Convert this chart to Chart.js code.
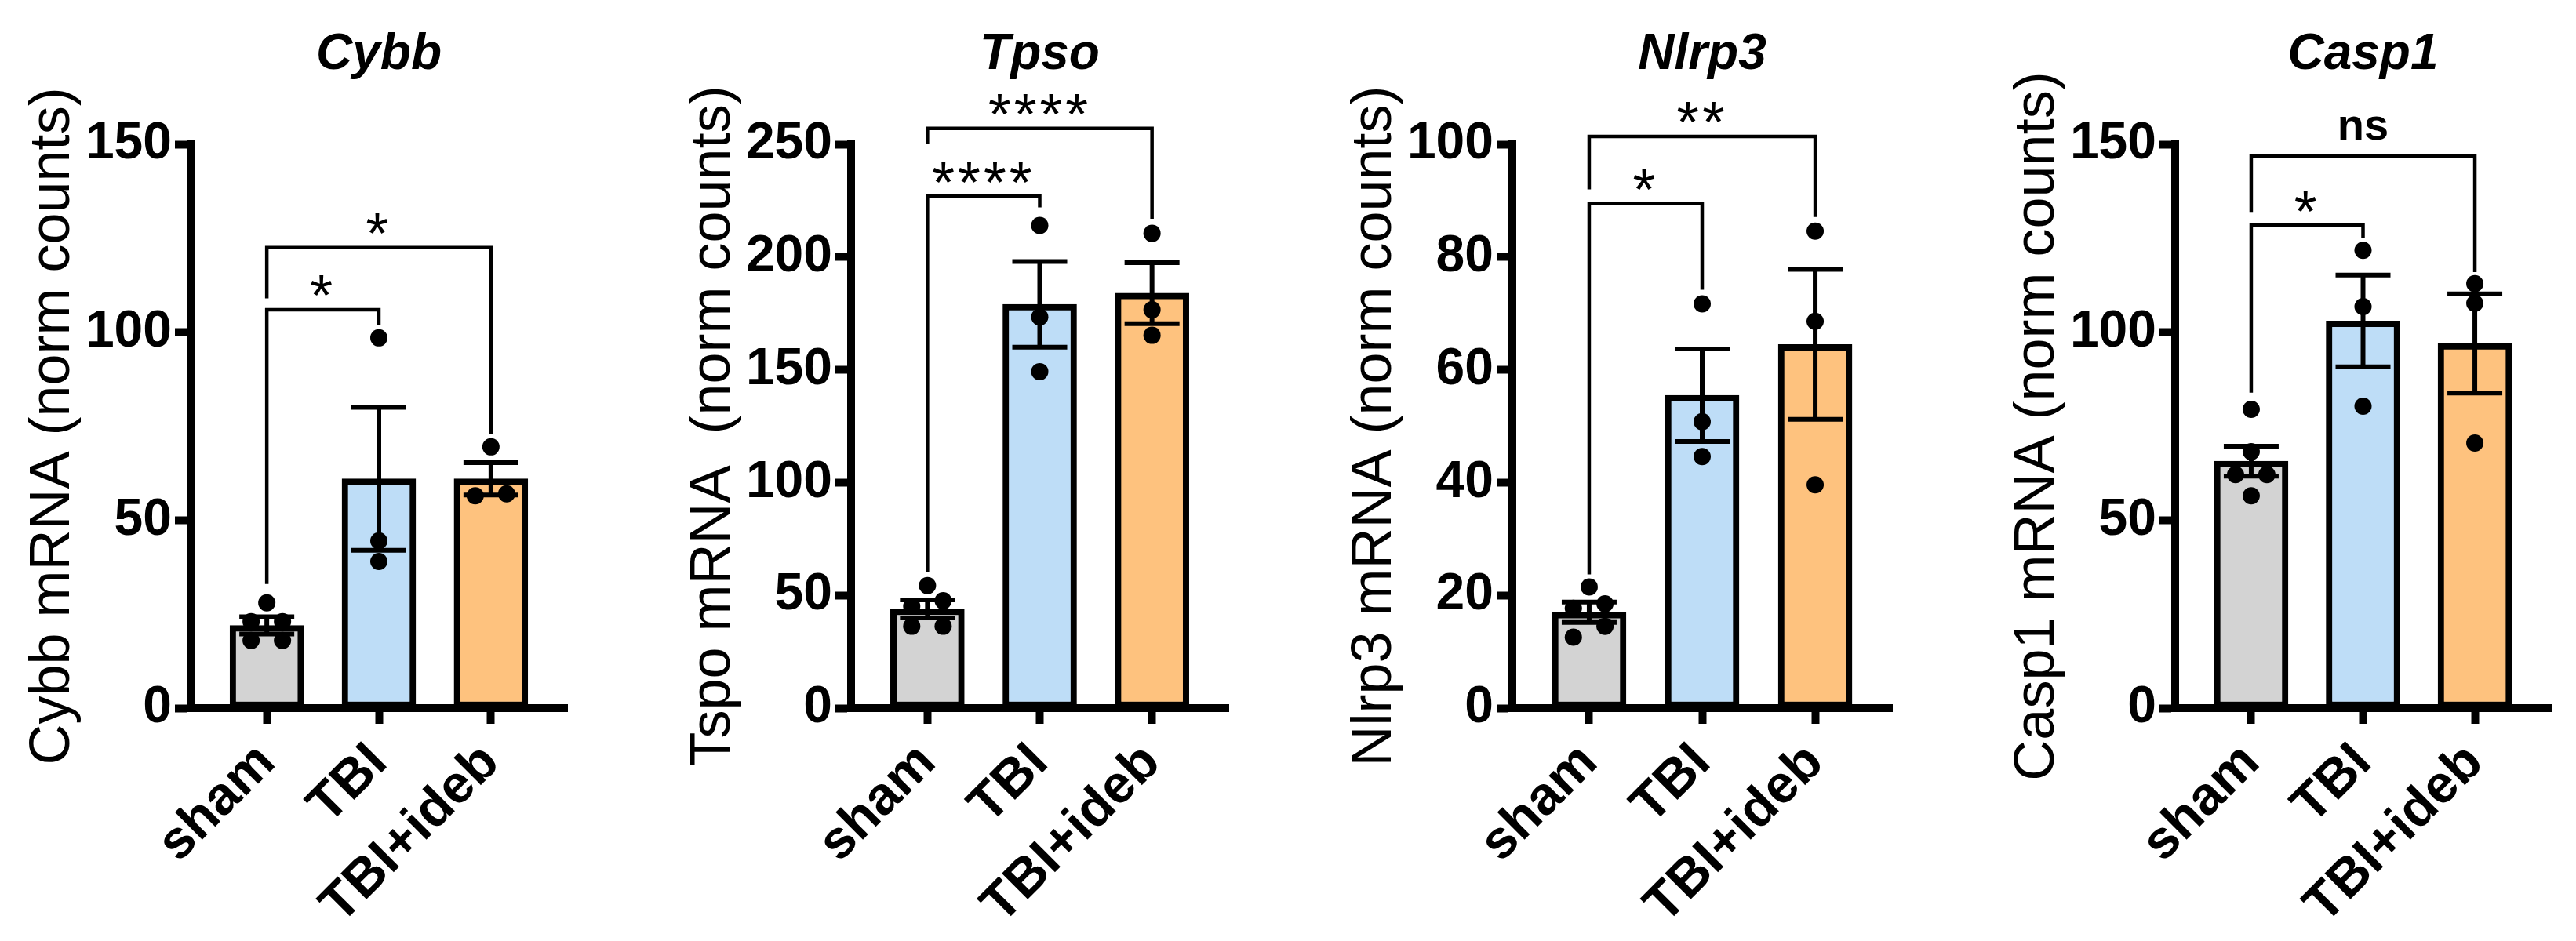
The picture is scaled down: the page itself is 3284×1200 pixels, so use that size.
<!DOCTYPE html>
<html>
<head>
<meta charset="utf-8">
<script src="https://cdn.jsdelivr.net/npm/chart.js@4.4.1/dist/chart.umd.min.js"></script>
<style>
  html, body { margin: 0; padding: 0; background: #fff; }
  #wrap { position: relative; width: 3284px; height: 1200px; overflow: hidden; }
  #wrap canvas { position: absolute; top: 0; }
</style>
</head>
<body>
<div id="wrap"></div>
<script>
// ---- data ----
const groups = ['sham', 'TBI', 'TBI+ideb'];
const genes = ['Cybb', 'Tpso', 'Nlrp3', 'Casp1'];
const yTitles = ['Cybb mRNA (norm counts)', 'Tspo mRNA  (norm counts)', 'Nlrp3 mRNA (norm counts)', 'Casp1 mRNA (norm counts)'];
const yMax = [150, 250, 100, 150];
const yStep = [50, 50, 20, 50];

const cybbMean = [22, 61, 61];
const cybbSem = [2.3, 19, 4.3];
const cybbPoints = [[28, 23, 23, 18, 18], [98.5, 44.5, 39], [69.5, 56.5, 57]];
// [from, to, bracket height, label, left leg end, right leg end]
const cybbSig = [[0, 1, 106, '*', 33, 102], [0, 2, 122.5, '*', 109, 73]];

const tspoMean = [44, 179, 184];
const tspoSem = [4, 19, 13.5];
const tspoPoints = [[54.3, 45.2, 47.6, 36.3, 36.3], [214, 173.4, 149.2], [210.5, 176.6, 165.3]];
const tspoSig = [[0, 1, 227, '****', 60.5, 222], [0, 2, 257, '****', 250, 217]];

const nlrp3Mean = [17, 55.5, 64.5];
const nlrp3Sem = [1.8, 8.2, 13.3];
const nlrp3Points = [[21.5, 17.7, 18.5, 12.6, 14.5], [71.7, 50.8, 44.6], [84.6, 68.6, 39.6]];
const nlrp3Sig = [[0, 1, 89.5, '*', 23.7, 74.2], [0, 2, 101.4, '**', 92, 87.1]];

const casp1Mean = [65.7, 103, 97];
const casp1Sem = [4, 12.2, 13.2];
const casp1Points = [[79.5, 68.2, 62.1, 62.1, 56.5], [121.8, 106.8, 80.3], [112.9, 107.7, 70.5]];
const casp1Sig = [[0, 1, 128.5, '*', 83.9, 125], [0, 2, 146.8, 'ns', 132, 116]];

const means = [cybbMean, tspoMean, nlrp3Mean, casp1Mean];
const sems = [cybbSem, tspoSem, nlrp3Sem, casp1Sem];
const points = [cybbPoints, tspoPoints, nlrp3Points, casp1Points];
const sigs = [cybbSig, tspoSig, nlrp3Sig, casp1Sig];

// ---- layout / style ----
const axisLeft = [243, 1085, 1928, 2773];
const axisRight = [723, 1566, 2412, 3252];
const Y_BOX = 243;       // width reserved left of the y axis line
const PAD_R = 30;
const TOP = 184, BOTTOM = 903, H = 1200;
const barColors = ['#D3D3D3', '#BEDDF7', '#FEC27E'];
const FONT = "'Liberation Sans', Arial, Helvetica, sans-serif";

// spread points with nearly equal values sideways, symmetric around the bar centre
function jitter(vals, ymax) {
  const thr = ymax * 0.025, gap = 0.28;
  const order = vals.map((v, i) => i).sort((a, b) => vals[a] - vals[b]);
  const off = new Array(vals.length).fill(0);
  let run = [order[0]];
  const flush = () => run.forEach((idx, k) => { off[idx] = (k - (run.length - 1) / 2) * gap; });
  for (let k = 1; k < order.length; k++) {
    if (vals[order[k]] - vals[order[k - 1]] < thr) run.push(order[k]);
    else { flush(); run = [order[k]]; }
  }
  flush();
  return off;
}

function annotations(p) {
  return {
    id: 'annot' + p,
    afterDatasetDraw(chart, args) {
      if (args.index !== 0) return;
      const ctx = chart.ctx, xs = chart.scales.x, ys = chart.scales.y;
      ctx.save();
      ctx.strokeStyle = '#000';
      ctx.lineWidth = 6;
      ctx.lineCap = 'butt';
      means[p].forEach((m, i) => {
        const x = xs.getPixelForValue(i);
        const yt = ys.getPixelForValue(m + sems[p][i]);
        const yb = ys.getPixelForValue(m - sems[p][i]);
        ctx.beginPath();
        ctx.moveTo(x, yt); ctx.lineTo(x, yb);
        ctx.moveTo(x - 35, yt); ctx.lineTo(x + 35, yt);
        ctx.moveTo(x - 35, yb); ctx.lineTo(x + 35, yb);
        ctx.stroke();
      });
      ctx.restore();
    },
    afterDraw(chart) {
      const ctx = chart.ctx, xs = chart.scales.x, ys = chart.scales.y;
      const area = chart.chartArea;
      ctx.save();
      // close the small notch where the two axis lines meet
      ctx.fillStyle = '#000';
      ctx.fillRect(area.left - 5, area.bottom - 5, 10, 10);
      ctx.strokeStyle = '#000';
      ctx.lineWidth = 4.5;
      ctx.lineJoin = 'miter';
      sigs[p].forEach(([a, b, h, label, la, lb]) => {
        const xa = xs.getPixelForValue(a), xb = xs.getPixelForValue(b);
        const yy = ys.getPixelForValue(h);
        ctx.beginPath();
        ctx.moveTo(xa, ys.getPixelForValue(la));
        ctx.lineTo(xa, yy);
        ctx.lineTo(xb, yy);
        ctx.lineTo(xb, ys.getPixelForValue(lb));
        ctx.stroke();
        const isNs = label === 'ns';
        ctx.font = isNs ? 'bold 56px ' + FONT : '74px ' + FONT;
        ctx.letterSpacing = isNs ? '0px' : '4px';
        ctx.textAlign = 'center';
        ctx.textBaseline = 'alphabetic';
        const mt = ctx.measureText(label);
        const cy = yy - (isNs ? 36 : 30);
        ctx.fillText(label, (xa + xb) / 2, cy + (mt.actualBoundingBoxAscent - mt.actualBoundingBoxDescent) / 2);
      });
      ctx.restore();
    }
  };
}

const wrap = document.getElementById('wrap');
genes.forEach((gene, p) => {
  const left = axisLeft[p] - Y_BOX;
  const width = axisRight[p] - left + PAD_R;
  const cv = document.createElement('canvas');
  cv.width = width; cv.height = H;
  cv.style.left = left + 'px';
  cv.style.width = width + 'px';
  cv.style.height = H + 'px';
  wrap.appendChild(cv);

  const scatter = [];
  points[p].forEach((vals, i) => {
    const off = jitter(vals, yMax[p]);
    vals.forEach((v, k) => scatter.push({ x: i + off[k], y: v }));
  });

  new Chart(cv, {
    type: 'bar',
    data: {
      datasets: [
        {
          type: 'bar',
          data: means[p].map((m, i) => ({ x: i, y: m })),
          backgroundColor: barColors,
          borderColor: '#000',
          borderWidth: 8,
          borderSkipped: false,
          barThickness: 94,
          order: 2
        },
        {
          type: 'scatter',
          data: scatter,
          pointRadius: 11,
          pointBackgroundColor: '#000',
          pointBorderWidth: 0,
          order: 1
        }
      ]
    },
    options: {
      responsive: false,
      animation: false,
      devicePixelRatio: 1,
      layout: { padding: { left: 0, right: PAD_R, top: 0, bottom: 0 } },
      plugins: {
        legend: { display: false },
        tooltip: { enabled: false },
        title: {
          display: true,
          text: gene,
          fullSize: false,
          color: '#000',
          font: { family: FONT, size: 64, weight: 'bold', style: 'italic', lineHeight: 1.2 },
          padding: { top: 32, bottom: TOP - 32 - 64 * 1.2 }
        }
      },
      scales: {
        x: {
          type: 'linear',
          min: -0.68,
          max: 2.68,
          offset: false,
          afterFit: s => { s.height = H - BOTTOM; s.paddingLeft = 0; s.paddingRight = 0; },
          border: { display: true, color: '#000', width: 10 },
          grid: { offset: false, drawOnChartArea: false, drawTicks: true, tickLength: 20, tickWidth: 10, tickColor: '#000' },
          ticks: {
            stepSize: 1,
            includeBounds: false,
            autoSkip: false,
            minRotation: 45,
            maxRotation: 45,
            padding: 10,
            color: '#000',
            font: { family: FONT, size: 68, weight: 'bold' },
            callback: v => groups[v] ?? ''
          }
        },
        y: {
          min: 0,
          max: yMax[p],
          afterFit: s => { s.width = Y_BOX; s.paddingTop = 0; s.paddingBottom = 0; },
          border: { display: true, color: '#000', width: 10 },
          grid: { drawOnChartArea: false, drawTicks: true, tickLength: 20, tickWidth: 10, tickColor: '#000' },
          ticks: {
            stepSize: yStep[p],
            padding: 4,
            color: '#000',
            font: { family: FONT, size: 66, weight: 'bold' }
          },
          title: {
            display: true,
            text: yTitles[p],
            color: '#000',
            font: { family: FONT, size: 72, weight: 'normal', lineHeight: 1.2 },
            padding: { top: 25, bottom: 0 }
          }
        }
      }
    },
    plugins: [annotations(p)]
  });
});
</script>
</body>
</html>
